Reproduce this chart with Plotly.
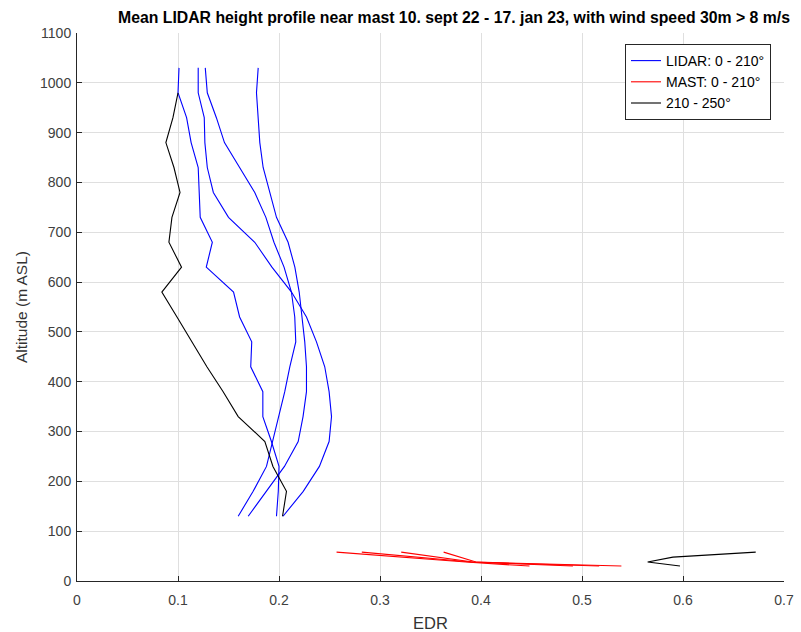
import plotly.graph_objects as go

# LIDAR heights (m ASL)
lidar_heights = [130, 180, 230, 280, 330, 380, 430, 480, 530, 580, 630, 680,
                 730, 780, 830, 880, 930, 980, 1030]

lidar_b1 = [0.1975, 0.1993, 0.200, 0.1925, 0.184, 0.184, 0.172, 0.173, 0.161, 0.155,
            0.128, 0.134, 0.122, 0.121, 0.120, 0.113, 0.1085, 0.100, 0.101]
lidar_b2 = [0.204, 0.224, 0.240, 0.2496, 0.252, 0.2496, 0.2453, 0.2371, 0.2272, 0.2124,
            0.193, 0.176, 0.150, 0.135, 0.129, 0.1266, 0.126, 0.120, 0.120]
lidar_b3 = [0.1596, 0.1744, 0.1876, 0.1935, 0.2001, 0.2057, 0.2107, 0.2166, 0.2156, 0.2123,
            0.2050, 0.195, 0.187, 0.176, 0.161, 0.146, 0.138, 0.129, 0.127]
lidar_b4 = [0.1695, 0.187, 0.2054, 0.219, 0.2238, 0.2272, 0.2272, 0.2255, 0.2230, 0.2200,
            0.2157, 0.209, 0.1975, 0.191, 0.1843, 0.181, 0.1794, 0.1777, 0.1794]

black_heights = [130, 180, 230, 280, 330, 380, 430, 480, 530, 580, 630, 680,
                 730, 780, 830, 880, 930, 980]
lidar_black = [0.2035, 0.2074, 0.194, 0.186, 0.1596, 0.1447, 0.1286, 0.1141, 0.099, 0.084,
               0.1035, 0.091, 0.094, 0.102, 0.096, 0.088, 0.095, 0.100]

# Mast heights (m ASL)
mast_heights = [58, 38, 30]
mast_r1 = [0.257, 0.385, 0.448]
mast_r2 = [0.282, 0.390, 0.491]
mast_r3 = [0.321, 0.392, 0.517]
mast_r4 = [0.363, 0.395, 0.539]

mast_black_heights = [58, 48, 38, 30]
mast_black = [0.672, 0.590, 0.565, 0.597]

BLUE = "#0000ff"
RED = "#ff0000"
BLACK = "#000000"
LW = 1.1

fig = go.Figure()
for i, s in enumerate([lidar_b1, lidar_b2, lidar_b3, lidar_b4]):
    fig.add_trace(go.Scatter(x=s, y=lidar_heights, mode="lines",
                             line=dict(color=BLUE, width=LW),
                             name="LIDAR: 0 - 210°", legendgroup="lidar",
                             showlegend=(i == 0)))
for i, s in enumerate([mast_r1, mast_r2, mast_r3, mast_r4]):
    fig.add_trace(go.Scatter(x=s, y=mast_heights, mode="lines",
                             line=dict(color=RED, width=LW),
                             name="MAST: 0 - 210°", legendgroup="mast",
                             showlegend=(i == 0)))
fig.add_trace(go.Scatter(x=lidar_black, y=black_heights, mode="lines",
                         line=dict(color=BLACK, width=LW),
                         name="210 - 250°", legendgroup="black", showlegend=True))
fig.add_trace(go.Scatter(x=mast_black, y=mast_black_heights, mode="lines",
                         line=dict(color=BLACK, width=LW),
                         name="210 - 250°", legendgroup="black", showlegend=False))

FONT = "Liberation Sans, Arial, sans-serif"
AX = "#262626"
GRID = "#dfdfdf"

fig.update_layout(
    width=801, height=632,
    margin=dict(l=77, r=17, t=33, b=51),
    paper_bgcolor="white", plot_bgcolor="white",
    font=dict(family=FONT, size=14, color=AX),
    title=dict(text="<b>Mean LIDAR height profile near mast 10. sept 22 - 17. jan 23, with wind speed 30m > 8 m/s</b>",
               x=454 / 801, xanchor="center", y=1 - 17 / 632, yanchor="middle",
               font=dict(family=FONT, size=15.8, color="#000000")),
    xaxis=dict(range=[0, 0.7], dtick=0.1, tick0=0, showgrid=True, gridcolor=GRID,
               gridwidth=1, zeroline=False, showline=True, linecolor=AX, linewidth=1,
               ticks="inside", ticklen=5, tickcolor=AX, mirror=False, automargin=False,
               tickfont=dict(size=14, color="#404040"), ticklabelstandoff=6,
               title=dict(text="EDR", font=dict(size=16.5, color="#333333"), standoff=10)),
    yaxis=dict(range=[0, 1100], dtick=100, tick0=0, showgrid=True, gridcolor=GRID,
               gridwidth=1, zeroline=False, showline=True, linecolor=AX, linewidth=1,
               ticks="inside", ticklen=5, tickcolor=AX, mirror=False, automargin=False,
               tickfont=dict(size=14, color="#404040"), ticklabelstandoff=2,
               title=dict(text="Altitude (m ASL)", font=dict(size=15.5, color="#333333"), standoff=8)),
    legend=dict(x=(771 - 77) / 707, xanchor="right", y=(581 - 44) / 548, yanchor="top",
                bgcolor="white", bordercolor=AX, borderwidth=1,
                font=dict(family=FONT, size=14, color="#000000"),
                tracegroupgap=0),
    showlegend=True,
)

fig.write_html("out.html")
